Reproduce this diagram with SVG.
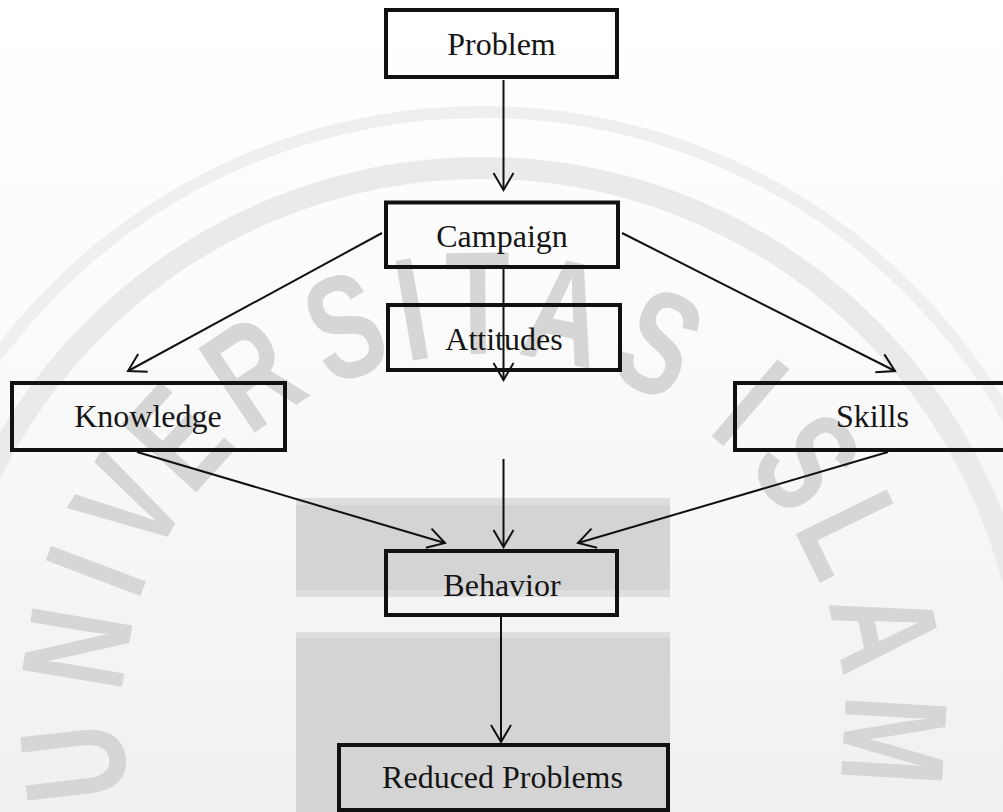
<svg xmlns="http://www.w3.org/2000/svg" width="1003" height="812" viewBox="0 0 1003 812">
  <style>
    .box { fill: none; stroke: #111; stroke-width: 4; }
    .lbl { font-family: "Liberation Serif", "Times New Roman", serif; font-size: 32px; text-anchor: middle; fill: #151515; }
    .con { stroke: #111; stroke-width: 2; fill: none; marker-end: url(#arr); }
    .wm { font-family: "Liberation Sans", Arial, sans-serif; font-weight: bold; font-size: 147px; text-anchor: middle; fill: #d6d6d6; }
    .ring { fill: none; }
  </style>
  <defs>
    <marker id="arr" markerUnits="userSpaceOnUse" markerWidth="24" markerHeight="24" viewBox="-20 -12 22 24" refX="0" refY="0" orient="auto">
      <path d="M-17,-10 L0,0 L-17,10" fill="none" stroke="#111" stroke-width="2"/>
    </marker>
    <linearGradient id="bg" x1="0" y1="0" x2="0" y2="1">
      <stop offset="0" stop-color="#ffffff"/>
      <stop offset="0.4" stop-color="#fbfbfb"/>
      <stop offset="1" stop-color="#f0f0f0"/>
    </linearGradient>
  </defs>

  <g id="background">
    <rect x="0" y="0" width="1003" height="812" fill="url(#bg)"/>
    <circle class="ring" cx="482" cy="716" r="604" stroke="#efefef" stroke-width="12"/>
    <circle class="ring" cx="482" cy="716" r="548" stroke="#eaeaea" stroke-width="22"/>
    <rect x="296" y="498" width="374" height="99" fill="#dedede"/>
    <rect x="296" y="505" width="374" height="85" fill="#d4d4d4"/>
    <rect x="296" y="632" width="374" height="180" fill="#dedede"/>
    <rect x="296" y="638" width="374" height="174" fill="#d4d4d4"/>
  </g>

  <g id="watermark">
    <text class="wm" transform="rotate(-96.6 482 716) translate(482 356) scale(0.72 1)">U</text>
    <text class="wm" transform="rotate(-80.4 482 716) translate(482 356) scale(0.72 1)">N</text>
    <text class="wm" transform="rotate(-69.4 482 716) translate(482 354) scale(0.72 1)">I</text>
    <text class="wm" transform="rotate(-59.1 482 716) translate(482 354) scale(0.72 1)">V</text>
    <text class="wm" transform="rotate(-47.5 482 716) translate(482 354) scale(0.72 1)">E</text>
    <text class="wm" transform="rotate(-33.8 482 716) translate(482 354) scale(0.72 1)">R</text>
    <text class="wm" transform="rotate(-19.4 482 716) translate(482 354) scale(0.72 1)">S</text>
    <text class="wm" transform="rotate(-9.8 482 716) translate(482 354) scale(0.72 1)">I</text>
    <text class="wm" transform="rotate(-0.6 482 716) translate(482 354) scale(0.72 1)">T</text>
    <text class="wm" transform="rotate(11.6 482 716) translate(482 354) scale(0.72 1)">A</text>
    <text class="wm" transform="rotate(25.4 482 716) translate(482 354) scale(0.72 1)">S</text>
    <text class="wm" transform="rotate(40.6 482 716) translate(482 354) scale(0.72 1)">I</text>
    <text class="wm" transform="rotate(52 482 716) translate(482 354) scale(0.72 1)">S</text>
    <text class="wm" transform="rotate(63.9 482 716) translate(482 354) scale(0.72 1)">L</text>
    <text class="wm" transform="rotate(77.9 482 716) translate(482 354) scale(0.72 1)">A</text>
    <text class="wm" transform="rotate(93.4 482 716) translate(482 354) scale(0.72 1)">M</text>
  </g>

  <g id="connectors">
    <path class="con" d="M503.5 80 L503.5 190"/>
    <path class="con" d="M382 233 L128 371"/>
    <path class="con" d="M622 233 L895 371"/>
    <path class="con" d="M503.5 269 L503.5 380"/>
    <path class="con" d="M503.5 459 L503.5 547"/>
    <path class="con" d="M137 452 L445 543"/>
    <path class="con" d="M888 452 L578 543"/>
    <path class="con" d="M501 617 L501 742"/>
  </g>

  <g id="problem">
    <rect class="box" x="386" y="10" width="231" height="67"/>
    <text class="lbl" x="501.5" y="55">Problem</text>
  </g>
  <g id="campaign">
    <rect class="box" x="386" y="202.5" width="232" height="64.5"/>
    <text class="lbl" x="502" y="247">Campaign</text>
  </g>
  <g id="attitudes">
    <rect class="box" x="388" y="305" width="232" height="65"/>
    <text class="lbl" x="504" y="350">Attitudes</text>
  </g>
  <g id="knowledge">
    <rect class="box" x="12" y="383" width="273" height="67"/>
    <text class="lbl" x="148" y="427">Knowledge</text>
  </g>
  <g id="skills">
    <rect class="box" x="735" y="383" width="300" height="67"/>
    <text class="lbl" x="872.5" y="427">Skills</text>
  </g>
  <g id="behavior">
    <rect class="box" x="386" y="551" width="231" height="64"/>
    <text class="lbl" x="502" y="596">Behavior</text>
  </g>
  <g id="reduced-problems">
    <rect class="box" x="339" y="745" width="329" height="65"/>
    <text class="lbl" x="502.5" y="788">Reduced Problems</text>
  </g>
</svg>
